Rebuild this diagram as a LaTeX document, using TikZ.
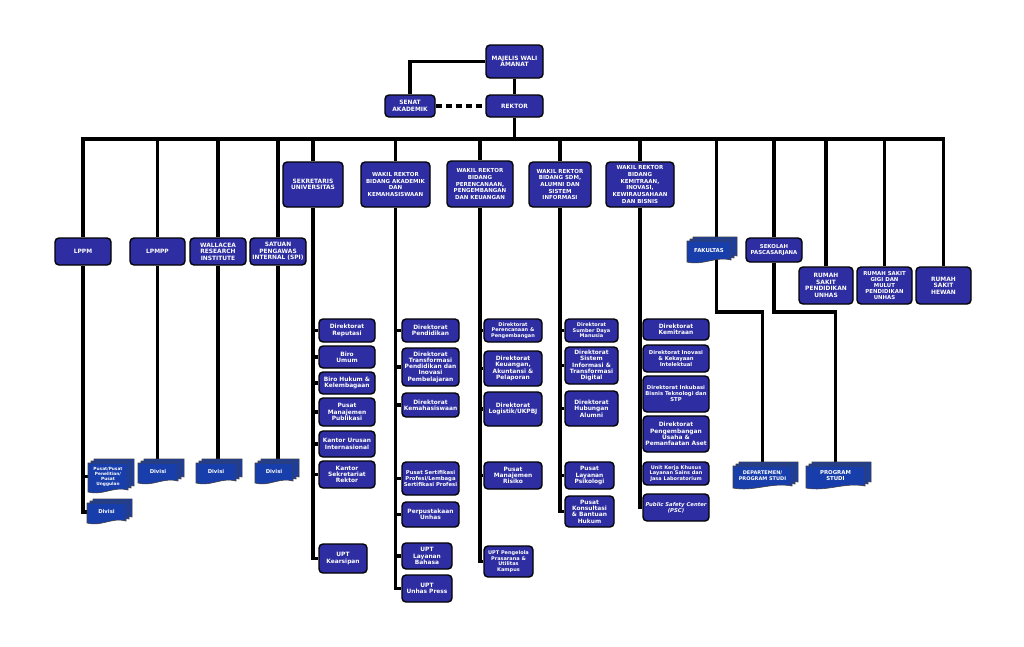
\documentclass[tikz,border=0pt]{standalone}
\usepackage{fontspec}
\setmainfont{DejaVu Sans}
\usetikzlibrary{backgrounds}
\definecolor{boxblue}{RGB}{46,46,162}
\definecolor{docblue}{RGB}{24,62,172}
\newcommand\fT{\fontsize{5.9}{6.6}\selectfont\bfseries}
\newcommand\fW{\fontsize{5.5}{6.7}\selectfont\bfseries}
\newcommand\fS{\fontsize{5.4}{6.0}\selectfont\bfseries}
\newcommand\fN{\fontsize{5.9}{6.3}\selectfont\bfseries}
\newcommand\fM{\fontsize{5.3}{6.0}\selectfont\bfseries}
\newcommand\fX{\fontsize{5.0}{5.6}\selectfont\bfseries}
\newcommand\fXX{\fontsize{4.3}{5}\selectfont\bfseries}
\tikzset{
  rbox/.style={draw=black, line width=1.4pt, fill=boxblue, text=white, rounded corners=4pt, align=center, inner sep=0.5pt},
  conn/.style={line width=3.1pt, draw=black},
  sheet/.style={draw=black!75, line width=0.6pt, fill=docblue},
  doctext/.style={text=white, align=center, inner sep=0pt},
}
\newcommand\bx[7]{\node[rbox, font=#6, minimum width={#4-#2}, minimum height={#5-#3}] (#1) at ({(#2+#4)/2},{(#3+#5)/2}) {#7};}
\newcommand\sheetpath[4]{\filldraw[sheet] ({#1},{#2}) -- ({#3},{#2}) -- ({#3},{#4-2}) .. controls ({#3-(#3-#1)*0.35},{#4-6}) and ({#1+(#3-#1)*0.35},{#4+4}) .. ({#1},{#4}) -- cycle;}
\newcommand\stackdoc[7]{%
  \sheetpath{(#2+6)}{(#3-4)}{(#4+6)}{(#5-4)}
  \sheetpath{(#2+3)}{(#3-2)}{(#4+3)}{(#5-2)}
  \sheetpath{(#2)}{(#3)}{(#4)}{(#5)}
  \node[doctext, font=#6, minimum width={#4-#2}, minimum height={#5-#3}] (#1) at ({(#2+#4)/2},{(#3+#5)/2-1}) {#7};}
\begin{document}
\begin{tikzpicture}[x=1pt,y=-1pt]
\useasboundingbox (0,0) rectangle (1024,646);
\begin{pgfonlayer}{background}
\fill[white] (0,0) rectangle (1024,646);
\end{pgfonlayer}
% top
\bx{maj}{486}{45}{543}{78}{\fT}{MAJELIS WALI\\AMANAT}
\bx{rek}{486}{95}{543}{117}{\fT}{REKTOR}
\bx{sen}{385}{95}{435}{117}{\fT}{SENAT\\AKADEMIK}
% level 1
\bx{lppm}{55}{238}{111}{265}{\fT}{LPPM}
\bx{lpmpp}{130}{238}{185}{265}{\fT}{LPMPP}
\bx{wal}{190}{238}{246}{265}{\fT}{WALLACEA\\RESEARCH\\INSTITUTE}
\bx{spi}{250}{238}{306}{265}{\fT}{SATUAN\\PENGAWAS\\INTERNAL (SPI)}
\bx{sek}{283}{162}{343}{207}{\fT}{SEKRETARIS\\UNIVERSITAS}
\bx{wr1}{361}{162}{430}{207}{\fW}{WAKIL REKTOR\\BIDANG AKADEMIK\\DAN\\KEMAHASISWAAN}
\bx{wr2}{447}{161}{513}{207}{\fW}{WAKIL REKTOR\\BIDANG\\PERENCANAAN,\\PENGEMBANGAN\\DAN KEUANGAN}
\bx{wr3}{529}{162}{591}{207}{\fW}{WAKIL REKTOR\\BIDANG SDM,\\ALUMNI DAN\\SISTEM\\INFORMASI}
\bx{wr4}{606}{162}{674}{207}{\fW}{WAKIL REKTOR\\BIDANG\\KEMITRAAN,\\INOVASI,\\KEWIRAUSAHAAN\\DAN BISNIS}
\stackdoc{fak}{687}{241}{731}{262}{\fS}{FAKULTAS}
\bx{pasca}{746}{238}{802}{262}{\fS}{SEKOLAH\\PASCASARJANA}
\bx{rsp}{799}{267}{853}{304}{\fT}{RUMAH\\SAKIT\\PENDIDIKAN\\UNHAS}
\bx{rsg}{857}{267}{912}{304}{\fS}{RUMAH SAKIT\\GIGI DAN\\MULUT\\PENDIDIKAN\\UNHAS}
\bx{rsh}{916}{267}{971}{304}{\fT}{RUMAH\\SAKIT\\HEWAN}
\stackdoc{dep}{733}{466}{792}{488}{\fX}{DEPARTEMEN/\\PROGRAM STUDI}
\stackdoc{prog}{806}{466}{865}{488}{\fS}{PROGRAM\\STUDI}
% LPPM etc children
\stackdoc{pusat}{88}{463}{128}{492}{\fXX}{Pusat/Pusat\\Penelitian/\\Pusat\\Unggulan}
\stackdoc{lppmdiv}{87}{503}{126}{523}{\fM}{Divisi}
\stackdoc{lpmppdiv}{138}{463}{178}{483}{\fM}{Divisi}
\stackdoc{waldiv}{196}{463}{236}{483}{\fM}{Divisi}
\stackdoc{spidiv}{255}{463}{293}{483}{\fM}{Divisi}
% Sekretaris
\bx{sk1}{319}{319}{375}{342}{\fN}{Direktorat\\Reputasi}
\bx{sk2}{319}{346}{375}{368}{\fN}{Biro\\Umum}
\bx{sk3}{319}{372}{375}{394}{\fN}{Biro Hukum \&\\Kelembagaan}
\bx{sk4}{319}{398}{375}{426}{\fN}{Pusat\\Manajemen\\Publikasi}
\bx{sk5}{319}{431}{375}{457}{\fN}{Kantor Urusan\\Internasional}
\bx{sk6}{319}{461}{375}{488}{\fN}{Kantor\\Sekretariat\\Rektor}
\bx{sk7}{319}{544}{367}{573}{\fN}{UPT\\Kearsipan}
% WR1
\bx{a1}{402}{319}{459}{342}{\fN}{Direktorat\\Pendidikan}
\bx{a2}{402}{348}{459}{386}{\fN}{Direktorat\\Transformasi\\Pendidikan dan\\Inovasi\\Pembelajaran}
\bx{a3}{402}{393}{459}{417}{\fN}{Direktorat\\Kemahasiswaan}
\bx{a4}{402}{462}{459}{495}{\fM}{Pusat Sertifikasi\\Profesi/Lembaga\\Sertifikasi Profesi}
\bx{a5}{402}{502}{459}{527}{\fN}{Perpustakaan\\Unhas}
\bx{a6}{402}{543}{452}{569}{\fN}{UPT\\Layanan\\Bahasa}
\bx{a7}{402}{575}{452}{602}{\fN}{UPT\\Unhas Press}
% WR2
\bx{b1}{484}{319}{542}{342}{\fX}{Direktorat\\Perencanaan \&\\Pengembangan}
\bx{b2}{484}{351}{542}{386}{\fN}{Direktorat\\Keuangan,\\Akuntansi \&\\Pelaporan}
\bx{b3}{484}{392}{542}{426}{\fN}{Direktorat\\Logistik/UKPBJ}
\bx{b4}{484}{462}{542}{489}{\fN}{Pusat\\Manajemen\\Risiko}
\bx{b5}{484}{546}{533}{577}{\fX}{UPT Pengelola\\Prasarana \&\\Utilitas\\Kampus}
% WR3
\bx{c1}{565}{319}{618}{342}{\fX}{Direktorat\\Sumber Daya\\Manusia}
\bx{c2}{565}{347}{618}{384}{\fN}{Direktorat\\Sistem\\Informasi \&\\Transformasi\\Digital}
\bx{c3}{565}{391}{618}{426}{\fN}{Direktorat\\Hubungan\\Alumni}
\bx{c4}{565}{462}{614}{489}{\fN}{Pusat\\Layanan\\Psikologi}
\bx{c5}{565}{496}{614}{527}{\fN}{Pusat\\Konsultasi\\\& Bantuan\\Hukum}
% WR4
\bx{d1}{643}{319}{709}{340}{\fN}{Direktorat\\Kemitraan}
\bx{d2}{643}{345}{709}{372}{\fM}{Direktorat Inovasi\\\& Kekayaan\\Intelektual}
\bx{d3}{643}{376}{709}{412}{\fM}{Direktorat Inkubasi\\Bisnis Teknologi dan\\STP}
\bx{d4}{643}{416}{709}{452}{\fN}{Direktorat\\Pengembangan\\Usaha \&\\Pemanfaatan Aset}
\bx{d5}{643}{462}{709}{485}{\fX}{Unit Kerja Khusus\\Layanan Sains dan\\Jasa Laboratorium}
\bx{d6}{643}{494}{709}{521}{\fM\itshape}{Public Safety Center\\(PSC)}
% coordinates
\coordinate (busL) at (83,139);
\coordinate (elbowY) at (0,312);
\coordinate (fakx) at ([xshift=7.5pt]fak.north);
% connectors
\begin{pgfonlayer}{background}
\draw[conn] (maj.south) -- (rek.north);
\draw[conn] (maj.west) -| (sen.north);
\draw[conn, dash pattern=on 6pt off 4pt] (sen.east) -- (rek.west);
\draw[conn] (rek.south) -- (rek.south |- busL);
\draw[conn] (lppm.north) -- (lppm.north |- busL) -- (rsh.north |- busL) -- (rsh.north);
\foreach \n in {lpmpp,wal,spi,sek,wr1,wr2,wr3,wr4,pasca,rsp,rsg}
  \draw[conn] (\n.north |- busL) -- (\n.north);
\draw[conn] (fakx |- busL) -- (fakx);
\draw[conn] (fakx) -- (fakx |- elbowY) -| (dep.north);
\draw[conn] (pasca.south) -- (pasca.south |- elbowY) -| (prog.north);
\draw[conn] (lppm.south) |- (lppmdiv.west);
\draw[conn] (lppm.south |- pusat.west) -- (pusat.west);
\draw[conn] (lpmpp.south) -- (lpmpp.south |- lpmppdiv.north);
\draw[conn] (wal.south) -- (wal.south |- waldiv.north);
\draw[conn] (spi.south) -- (spi.south |- spidiv.north);
\draw[conn] (sek.south) |- (sk7.west);
\foreach \n in {sk1,sk2,sk3,sk4,sk5,sk6}
  \draw[conn] (sek.south |- \n.west) -- (\n.west);
\draw[conn] (wr1.south) |- (a7.west);
\foreach \n in {a1,a2,a3,a4,a5,a6}
  \draw[conn] (wr1.south |- \n.west) -- (\n.west);
\draw[conn] (wr2.south) |- (b5.west);
\foreach \n in {b1,b2,b3,b4}
  \draw[conn] (wr2.south |- \n.west) -- (\n.west);
\draw[conn] (wr3.south) |- (c5.west);
\foreach \n in {c1,c2,c3,c4}
  \draw[conn] (wr3.south |- \n.west) -- (\n.west);
\draw[conn] (wr4.south) |- (d6.west);
\foreach \n in {d1,d2,d3,d4,d5}
  \draw[conn] (wr4.south |- \n.west) -- (\n.west);
\end{pgfonlayer}
\end{tikzpicture}
\end{document}
